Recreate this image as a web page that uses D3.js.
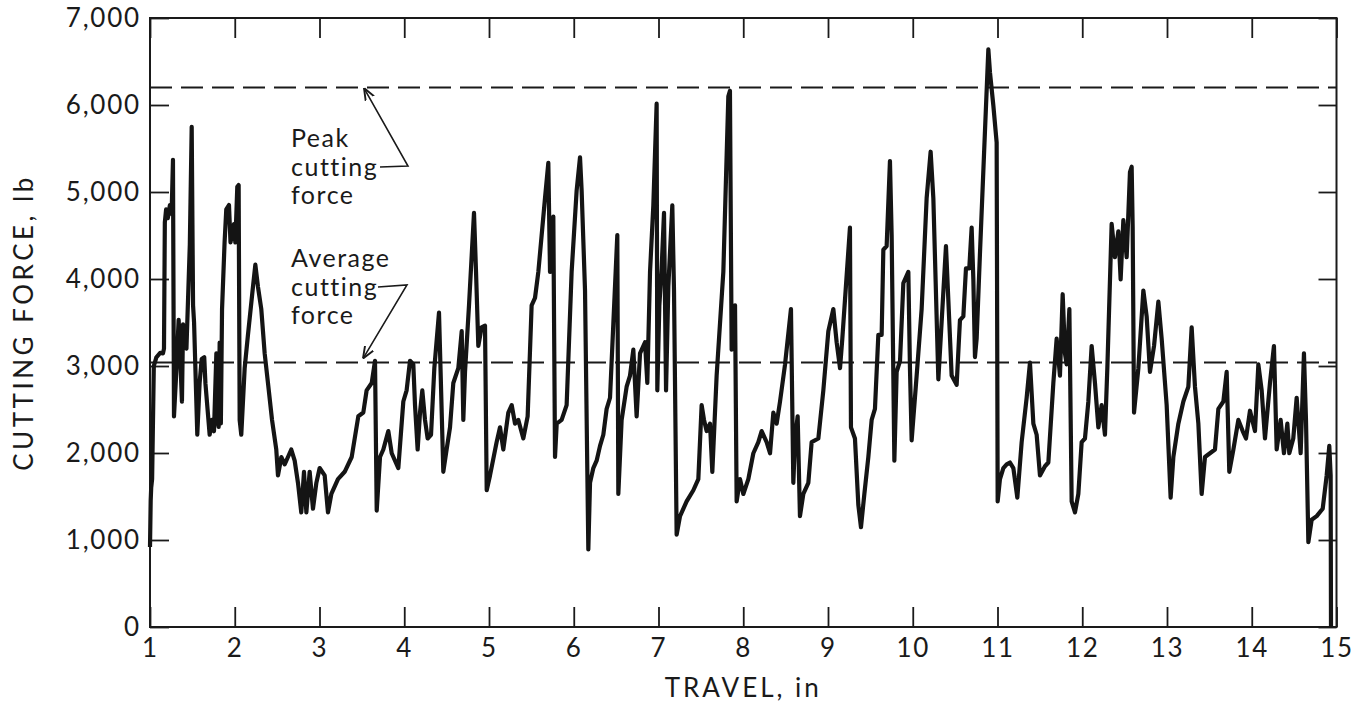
<!DOCTYPE html>
<html>
<head>
<meta charset="utf-8">
<script src="https://cdn.jsdelivr.net/npm/d3@7"></script>
<style>
  body { margin: 0; background: #fff; }
  svg text { font-family: Lato, "Open Sans", sans-serif; fill: #1a1a1a; }
  .tick text { font-size: 26px; letter-spacing: 1.8px; }
  .tick line { stroke: #1a1a1a; stroke-width: 1.8; }
</style>
</head>
<body>
<svg id="chart" width="1362" height="706"></svg>
<script>

// travel (in) and cutting force (lb)
var travel = [1.000,1.008,1.014,1.025,1.045,1.075,1.120,1.153,1.165,1.175,1.190,1.210,1.235,1.255,1.271,1.283,
  1.310,1.338,1.355,1.377,1.390,1.410,1.430,1.470,1.492,1.508,1.520,1.558,1.585,1.610,1.640,1.654,1.704,1.730,1.755,1.783,1.795,1.810,1.822,1.836,
  1.850,1.880,1.900,1.932,1.950,1.990,2.007,2.030,2.046,2.058,2.077,2.117,2.156,2.215,2.243,2.274,2.313,2.353,2.392,2.440,2.490,2.510,2.550,2.589,2.628,2.667,2.707,2.746,2.785,2.817,2.845,2.884,2.923,2.963,3.002,3.061,3.100,3.140,3.218,3.297,
  3.380,3.458,3.517,3.556,3.616,3.655,3.675,3.714,3.753,3.812,3.852,3.930,3.989,4.028,4.068,4.107,4.127,4.158,4.186,4.213,4.245,4.276,4.316,4.355,4.410,4.461,4.500,4.540,4.579,4.638,4.678,4.697,4.717,4.764,4.823,4.847,4.874,4.913,4.953,4.973,5.012,5.090,5.130,5.169,5.228,5.268,5.307,5.346,5.405,5.456,5.503,5.543,5.582,5.661,
  5.700,5.720,5.740,5.759,5.779,5.799,5.857,5.916,5.975,6.034,6.074,6.093,6.133,6.172,6.192,6.231,6.270,6.310,6.349,6.388,6.428,6.467,6.514,6.526,6.565,6.624,6.664,6.703,6.742,6.782,6.841,6.868,6.900,6.939,6.978,6.986,7.010,7.037,7.065,7.089,7.116,7.163,7.183,7.214,7.254,7.332,7.411,7.470,7.509,7.537,7.568,7.608,7.635,7.686,7.765,7.824,7.843,7.863,7.903,7.922,
  7.962,8.001,8.060,8.119,8.178,8.217,8.276,8.316,8.355,8.394,8.434,8.493,8.563,8.591,8.611,8.642,8.669,8.709,8.768,8.807,8.886,8.945,9.004,9.063,9.102,9.142,9.169,9.208,9.259,9.271,9.318,9.358,9.389,9.429,9.476,9.515,9.554,9.594,9.633,9.653,9.692,9.731,9.751,9.783,9.810,9.850,9.889,9.948,9.967,9.987,10.046,10.105,10.164,10.211,10.243,
  10.302,10.392,10.459,10.518,10.557,10.597,10.628,10.667,10.695,10.715,10.734,10.754,10.793,10.852,10.892,10.911,10.951,10.990,11.002,11.029,11.069,11.108,11.147,11.187,11.234,11.285,11.344,11.383,11.423,11.462,11.501,11.560,11.600,11.659,11.698,11.737,11.769,11.796,11.816,11.848,11.875,11.914,11.954,11.993,12.032,12.072,12.111,12.150,12.190,12.229,12.268,12.296,12.347,12.386,12.426,12.453,12.485,12.524,12.563,12.583,
  12.595,12.611,12.662,12.721,12.760,12.799,12.847,12.898,12.937,12.996,13.043,13.075,13.134,13.193,13.252,13.291,13.330,13.370,13.409,13.448,13.507,13.566,13.606,13.665,13.704,13.735,13.783,13.842,13.893,13.932,13.979,14.038,14.078,14.117,14.156,14.215,14.262,14.294,14.341,14.380,14.420,14.443,14.490,14.530,14.577,14.616,14.640,14.668,14.707,14.766,14.837,14.884,14.915,14.931,14.935];

var force = [920,1450,1600,1700,3000,3100,3150,3145,3200,4650,4800,4700,4850,4750,5370,2420,
  2930,3530,3150,2590,3480,3300,3200,4400,5750,3700,3500,2210,2800,3080,3100,2800,2210,2380,2250,3145,2400,2300,3270,2340,
  3650,4420,4800,4850,4420,4630,4420,5060,5080,2380,2210,2975,3360,3910,4165,3910,3655,3145,2805,2380,2040,1742,1954,1870,1954,2040,1912,1657,1317,1784,1317,1784,1359,1657,1827,1742,1317,1529,1700,1784,
  1954,2422,2465,2720,2805,3060,1338,1954,2040,2252,1997,1827,2592,2720,3060,3018,2550,2040,2465,2720,2380,2167,2210,2975,3613,1784,2040,2295,2805,2975,3400,2380,2932,3698,4761,4081,3230,3443,3464,1572,1742,2125,2295,2040,2465,2550,2337,2380,2167,2422,3698,3783,4081,4931,
  5335,4081,4250,4718,1954,2337,2380,2550,4081,5016,5399,5016,3868,891,1657,1827,1912,2082,2210,2507,2635,3485,4506,1529,2380,2762,2890,3188,2422,3145,3273,2805,4081,4846,6015,2720,3698,4123,4761,2720,3910,4846,3868,1062,1274,1444,1572,1700,2550,2380,2252,2337,1784,2890,4081,6100,6164,3188,3698,1444,
  1700,1529,1700,1997,2125,2252,2125,1997,2465,2337,2592,3018,3655,1657,2167,2422,1274,1529,1657,2125,2167,2720,3400,3655,3273,2975,3315,3868,4591,2295,2167,1402,1147,1529,1954,2380,2507,3358,3358,4336,4378,5356,4506,1912,2932,3060,3953,4081,2975,2146,2890,3655,4931,5463,4931,
  2847,4378,2890,2784,3528,3570,4123,4123,4591,3996,3103,3315,4293,5696,6640,6377,5994,5569,1444,1700,1827,1870,1891,1827,1487,2125,2635,3039,2337,2210,1742,1848,1891,2805,3315,2890,3825,3145,3018,3655,1444,1317,1529,2125,2167,2592,3230,2805,2295,2550,2210,2975,4633,4250,4548,3996,4676,4250,5229,5290,
  4591,2465,2975,3868,3570,2932,3230,3740,3315,2550,1487,1954,2337,2592,2762,3443,2762,2337,1529,1954,1997,2040,2507,2592,2932,1784,2040,2380,2252,2167,2486,2252,3018,2720,2167,2805,3230,2040,2380,1997,2337,1997,2167,2635,1997,3145,2380,976,1232,1274,1359,1742,2082,1742,0];

var xTicks = [1,2,3,4,5,6,7,8,9,10,11,12,13,14,15];
var yTicks = [0,1000,2000,3000,4000,5000,6000,7000];

var peakForce = 6200;
var averageForce = 3040;

var svg = d3.select("#chart");

var x = d3.scaleLinear().domain([1, 15]).range([150, 1336.5]);
var y = d3.scaleLinear().domain([0, 7000]).range([627, 18]);

var data = travel.map(function(t, i) { return {t: t, f: force[i]}; });

// frame
svg.append("rect")
  .attr("x", x(1)).attr("y", y(7000))
  .attr("width", x(15) - x(1)).attr("height", y(0) - y(7000))
  .attr("fill", "none").attr("stroke", "#1a1a1a").attr("stroke-width", 2);

// axes, ticks pointing inward
var yAxisL = d3.axisLeft(y).tickValues(yTicks).tickSizeInner(-19).tickSizeOuter(0)
  .tickPadding(9).tickFormat(d3.format(","));
var yAxisR = d3.axisRight(y).tickValues(yTicks).tickSizeInner(-18).tickSizeOuter(0).tickFormat("");
var xAxisB = d3.axisBottom(x).tickValues(xTicks).tickSizeInner(-20).tickSizeOuter(0).tickPadding(12);
var xAxisT = d3.axisTop(x).tickValues(xTicks).tickSizeInner(-20).tickSizeOuter(0).tickFormat("");

svg.append("g").attr("class", "axis axis--y").attr("transform", "translate(" + x(1) + ",0)").call(yAxisL);
svg.append("g").attr("class", "axis").attr("transform", "translate(" + x(15) + ",0)").call(yAxisR);
svg.append("g").attr("class", "axis axis--x").attr("transform", "translate(0," + y(0) + ")").call(xAxisB);
svg.append("g").attr("class", "axis").attr("transform", "translate(0," + y(7000) + ")").call(xAxisT);
svg.selectAll(".axis .domain").remove();
svg.selectAll(".axis text").attr("font-family", null).attr("font-size", null).attr("fill", null);

// dashed reference lines
[peakForce, averageForce].forEach(function(v) {
  svg.append("line")
    .attr("x1", x(1)).attr("x2", x(15))
    .attr("y1", y(v)).attr("y2", y(v))
    .attr("stroke", "#1a1a1a").attr("stroke-width", 2)
    .attr("stroke-dasharray", "22,9");
});

// the force trace
var valueline = d3.line()
  .x(function(d) { return x(d.t); })
  .y(function(d) { return y(d.f); });

svg.append("path")
  .datum(data)
  .attr("d", valueline)
  .attr("fill", "none")
  .attr("stroke", "#141414")
  .attr("stroke-width", 4.2)
  .attr("stroke-linejoin", "round");

// annotations
svg.append("defs").append("marker")
  .attr("id", "arrow").attr("viewBox", "0 -5 10 10")
  .attr("refX", 10).attr("refY", 0)
  .attr("markerUnits", "userSpaceOnUse")
  .attr("markerWidth", 12).attr("markerHeight", 12)
  .attr("orient", "auto")
  .append("path").attr("d", "M0,-4L10,0L0,4")
  .attr("fill", "none").attr("stroke", "#1a1a1a").attr("stroke-width", 1.6);

var notes = [
  {lines: ["Peak", "cutting", "force"], t: 2.664, f: 5517, arrow: [[3.714, 5287], [4.044, 5299], [3.525, 6195]]},
  {lines: ["Average", "cutting", "force"], t: 2.664, f: 4135, arrow: [[3.690, 3908], [4.032, 3931], [3.513, 3085]]}
];

var arrowLine = d3.line().x(function(d) { return x(d[0]); }).y(function(d) { return y(d[1]); });

notes.forEach(function(n) {
  n.lines.forEach(function(s, i) {
    svg.append("text")
      .attr("x", x(n.t)).attr("y", y(n.f) + i * 28.5)
      .attr("font-size", 25).attr("letter-spacing", "1.5px")
      .text(s);
  });
  svg.append("path")
    .attr("d", arrowLine(n.arrow))
    .attr("fill", "none").attr("stroke", "#1a1a1a").attr("stroke-width", 1.6)
    .attr("marker-end", "url(#arrow)");
});

// axis titles
svg.append("text")
  .attr("x", (x(1) + x(15)) / 2).attr("y", 697)
  .attr("text-anchor", "middle").attr("font-size", 26).attr("letter-spacing", "3px")
  .text("TRAVEL, in");

svg.append("text")
  .attr("transform", "translate(33," + (y(0) + y(7000)) / 2 + ") rotate(-90)")
  .attr("text-anchor", "middle").attr("font-size", 26).attr("letter-spacing", "3.5px")
  .text("CUTTING  FORCE,  lb");

</script>
</body>
</html>
